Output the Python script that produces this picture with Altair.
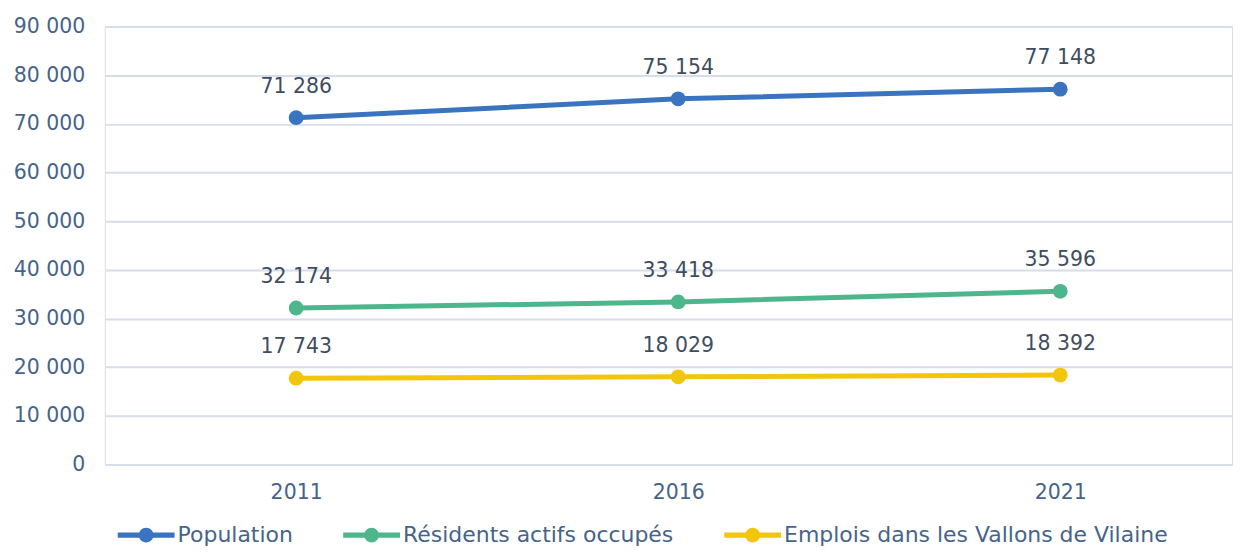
import altair as alt
import pandas as pd

years = ["2011", "2016", "2021"]
population = [71286, 75154, 77148]
residents = [32174, 33418, 35596]
emplois = [17743, 18029, 18392]
series = ["Population", "Résidents actifs occupés", "Emplois dans les Vallons de Vilaine"]
colors = ["#3a74c1", "#4db68c", "#f2c60d"]

rows = []
for name, vals in zip(series, [population, residents, emplois]):
    for y, v in zip(years, vals):
        rows.append({"year": y, "value": v, "series": name})
df = pd.DataFrame(rows)

FONT = "DejaVu Sans"
axis_col = "#46648a"
lab_col = "#3f4d5f"

x = alt.X("year:O", title=None,
          scale=alt.Scale(type="point", padding=0.4752, align=0.527),
          axis=alt.Axis(labelAngle=0, ticks=False, domain=False, grid=False,
                        labelPadding=18, labelFontSize=20.5, labelColor=axis_col, labelFont=FONT))
y = alt.Y("value:Q", title=None,
          scale=alt.Scale(domain=[0, 90000], nice=False),
          axis=alt.Axis(values=list(range(0, 90001, 10000)), ticks=False, domain=False,
                        labelExpr="replace(format(datum.value, ','), ',', ' ')",
                        labelPadding=20, labelFontSize=20.5, labelColor=axis_col, labelFont=FONT,
                        gridColor="#d5deea", gridWidth=2))

sym = "M-1,-0.09H1V0.09H-1Z M0.26,0A0.26,0.26,0,1,1,-0.26,0A0.26,0.26,0,1,1,0.26,0Z"

legend = alt.Legend(title=None, orient="none", direction="horizontal",
                    legendX=13, legendY=481, columns=3, columnPadding=50,
                    symbolType=sym, symbolSize=3249, symbolStrokeWidth=0,
                    labelFontSize=22, labelColor=axis_col, labelFont=FONT,
                    labelOffset=3, labelLimit=0)

base = alt.Chart(df).encode(
    x=x, y=y,
    color=alt.Color("series:N", sort=series,
                    scale=alt.Scale(domain=series, range=colors), legend=legend))

lines = base.mark_line(strokeWidth=5)
points = base.mark_point(filled=True, size=220, opacity=1)

labels = alt.Chart(df).mark_text(dy=-31, fontSize=20.5, font=FONT, color=lab_col).encode(
    x=x, y=y, text=alt.Text("label:N")).transform_calculate(
    label="replace(format(datum.value, ','), ',', ' ')")

chart = (lines + points + labels).properties(
    width=1130, height=439,
    autosize=alt.AutoSizeParams(type="none"),
    padding={"left": 97, "top": 18, "right": 5, "bottom": 84},
).configure_view(stroke=None).configure(background="white")

chart.save("out.html", embed_options={"renderer": "svg", "actions": False})
